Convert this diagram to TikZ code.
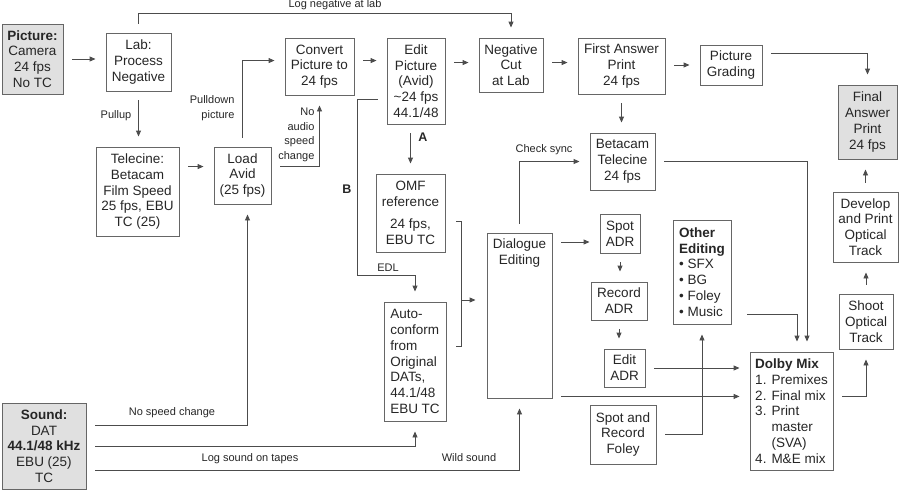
\documentclass[tikz,border=0pt]{standalone}
\usepackage{fontspec}
\setmainfont{Liberation Sans}
\usetikzlibrary{arrows.meta}

\begin{document}
\begin{tikzpicture}[x=1pt,y=-1pt,
  every node/.style={font=\fontsize{13.5}{15.8}\selectfont, text=black!85},
  box/.style={draw=black!60, line width=0.9pt, align=center, inner sep=2pt},
  shaded/.style={box, fill=black!12},
  lbl/.style={font=\fontsize{11}{14.6}\selectfont},
  tag/.style={font=\fontsize{12.5}{14}\selectfont\bfseries},
  wire/.style={draw=black!70, line width=0.9pt},
  arr/.style={wire, -{Triangle[length=6pt,width=5pt]}},
  gap/.style={shorten <=9pt, shorten >=10pt}]
    \useasboundingbox (0,0) rectangle (900,491);

    % picture side
    \node[shaded, minimum width=61pt, minimum height=70pt] (pic) at (32.5,59) {\textbf{Picture:}\\Camera\\24 fps\\No TC};
    \node[box, minimum width=65pt, minimum height=58pt] (lab) at (138.5,62) {Lab:\\Process\\Negative};
    \node[box, minimum width=83pt, minimum height=89pt] (tele) at (137.5,191.5) {Telecine:\\Betacam\\Film Speed\\25 fps, EBU\\TC (25)};
    \node[box, minimum width=57pt, minimum height=57pt] (load) at (242.5,175.5) {Load\\Avid\\(25 fps)};
    \node[box, minimum width=69pt, minimum height=57pt] (conv) at (319.5,66.5) {Convert\\Picture to\\24 fps};
    \node[box, minimum width=58pt, minimum height=86pt] (edit) at (416,81) {Edit\\Picture\\(Avid)\\\textasciitilde24 fps\\44.1/48};
    \node[box, minimum width=64pt, minimum height=54pt] (negcut) at (511,65) {Negative\\Cut\\at Lab};
    \node[box, minimum width=87pt, minimum height=56pt] (first) at (621.5,66) {First Answer\\Print\\24 fps};
    \node[box, minimum width=62pt, minimum height=40pt] (grade) at (731,65) {Picture\\Grading};
    \node[shaded, minimum width=59pt, minimum height=74pt] (final) at (867.5,122) {Final\\Answer\\Print\\24 fps};
    \node[box, minimum width=65pt, minimum height=57pt] (beta) at (622.5,161.5) {Betacam\\Telecine\\24 fps};
    \node[box, minimum width=65pt, minimum height=70pt] (develop) at (865.5,227) {Develop\\and Print\\Optical\\Track};
    \node[box, minimum width=54pt, minimum height=55pt] (shoot) at (866,321.5) {Shoot\\Optical\\Track};

    % sound side
    \node[box, minimum width=69pt, minimum height=78pt] (omf) at (410.5,213) {OMF\\reference\\[6pt]24 fps,\\EBU TC};
    \node[box, align=left, minimum width=62pt, minimum height=119pt] (auto) at (415,361.5) {Auto-\\conform\\from\\Original\\DATs,\\44.1/48\\EBU TC};
    \node[box, minimum width=65pt, minimum height=165pt] (dlg) at (519.5,315.5) {};
    \node[align=center, anchor=north] (dlgtxt) at ([yshift=-3pt]dlg.north) {Dialogue\\Editing};
    \node[box, minimum width=40pt, minimum height=39pt] (spot) at (620,233.5) {Spot\\ADR};
    \node[box, minimum width=56pt, minimum height=38pt] (rec) at (619,301) {Record\\ADR};
    \node[box, minimum width=41pt, minimum height=38pt] (eadr) at (624.5,368) {Edit\\ADR};
    \node[box, align=left, minimum width=58pt, minimum height=104pt] (other) at (702,272) {\textbf{Other}\\\textbf{Editing}\\\textbullet\ SFX\\\textbullet\ BG\\\textbullet\ Foley\\\textbullet\ Music};
    \node[box, minimum width=66pt, minimum height=59pt] (foley) at (623,434.5) {Spot and\\Record\\Foley};
    \node[box, align=left, minimum width=83pt, minimum height=118pt] (dolby) at (791.5,411) {\textbf{Dolby Mix}\\1. Premixes\\2. Final mix\\3. Print\\\hphantom{3. }master\\\hphantom{3. }(SVA)\\4. M\&E mix};
    \node[shaded, minimum width=84pt, minimum height=86pt] (sound) at (44,446) {\textbf{Sound:}\\DAT\\\textbf{44.1/48 kHz}\\EBU (25)\\TC};

    % picture connectors
    \draw[arr, gap] (pic.east) -- (pic.east -| lab.west);
    \draw[arr, gap] (lab.north) -- ++(0,-19) -| (negcut.north);
    \node[lbl] (lognegl) at (335,5) {Log negative at lab};
    \draw[arr, gap] (lab.south) -- (lab.south |- tele.north);
    \node[lbl] (pullupl) at (116,116) {Pullup};
    \draw[arr, gap] ([yshift=-20pt]tele.north east) -- ([yshift=-20pt]load.north west);
    \draw[arr, gap] (load.north) |- ([yshift=-23pt]conv.north west);
    \node[lbl, anchor=east, align=right] (pulldl) at (238,108) {Pulldown\\picture};
    \draw[arr, gap] ([yshift=-20pt]load.north east) -| (conv.south);
    \node[lbl, anchor=east, align=right] (noaudl) at (318,135) {No\\audio\\speed\\change};
    \draw[arr, gap] ([yshift=-23pt]conv.north east) -- ([yshift=-23pt]edit.north west);
    \draw[arr, gap] ([yshift=-25pt]edit.north east) -- ([yshift=-25pt]negcut.north west);
    \draw[arr, gap] ([yshift=-25pt]negcut.north east) -- ([yshift=-25pt]first.north west);
    \draw[arr, gap] (first.east |- grade.west) -- (grade.west);
    \draw[arr, gap] ([yshift=-9pt]grade.north east) -| (final.north);
    \draw[arr, gap] (first.south) -- (first.south |- beta.north);
    \draw[arr, gap] (beta.east) -| ([xshift=15.5pt]dolby.north);
    \draw[arr, gap] (shoot.north) -- (shoot.north |- develop.south);
    \draw[arr, gap] (develop.north) -- (develop.north |- final.south);

    % edit branches A and B
    \draw[arr, gap] (omf.north |- edit.south) -- (omf.north);
    \node[tag] (al) at (423,137) {A};
    \draw[arr, gap] ([yshift=-62pt]edit.north west) -- ++(-29,0) |- ([yshift=26pt]auto.north) -- (auto.north);
    \node[tag] (bl) at (347,189) {B};
    \node[lbl] (edll) at (388,268) {EDL};
    \draw[wire] ([xshift=11pt,yshift=-48pt]omf.north east) -- ++(5,0) |- ([xshift=10pt,yshift=-45pt]auto.north east);
    \coordinate (brk) at (461,300);
    \draw[arr, shorten >=11pt] (brk) -- (brk -| dlg.west);

    % sound connectors
    \draw[arr, gap] (dlg.north) |- (beta.west);
    \node[lbl] (syncl) at (544,150) {Check sync};
    \draw[arr, gap] ([yshift=-8.5pt]spot.west -| dlg.east) -- ([yshift=-8.5pt]spot.west);
    \draw[arr, gap] (spot.south) -- (spot.south |- rec.north);
    \draw[arr, gap] (rec.south) -- (rec.south |- eadr.north);
    \draw[arr, gap] (eadr.east) -- (eadr.east -| dolby.west);
    \draw[arr, gap] ([yshift=2pt]dlg.south east) -- ([yshift=2pt]dlg.south east -| dolby.west);
    \draw[arr, gap, shorten <=16pt] ([yshift=10pt]other.south east) -| ([xshift=5.5pt]dolby.north);
    \draw[arr, gap] (foley.east) -| (other.south);
    \draw[arr, gap] ([yshift=15pt]dolby.east) -| (shoot.south);
    \draw[arr, gap] ([yshift=21pt]sound.east) -| ([xshift=5pt]load.south);
    \node[lbl] (nospl) at (172,413) {No speed change};
    \draw[arr, gap] (sound.east) -| (auto.south);
    \node[lbl] (logsl) at (250,459) {Log sound on tapes};
    \draw[arr, gap] ([yshift=-24pt]sound.east) -| (dlg.south);
    \node[lbl] (wildl) at (469,458) {Wild sound};
\end{tikzpicture}
\end{document}
